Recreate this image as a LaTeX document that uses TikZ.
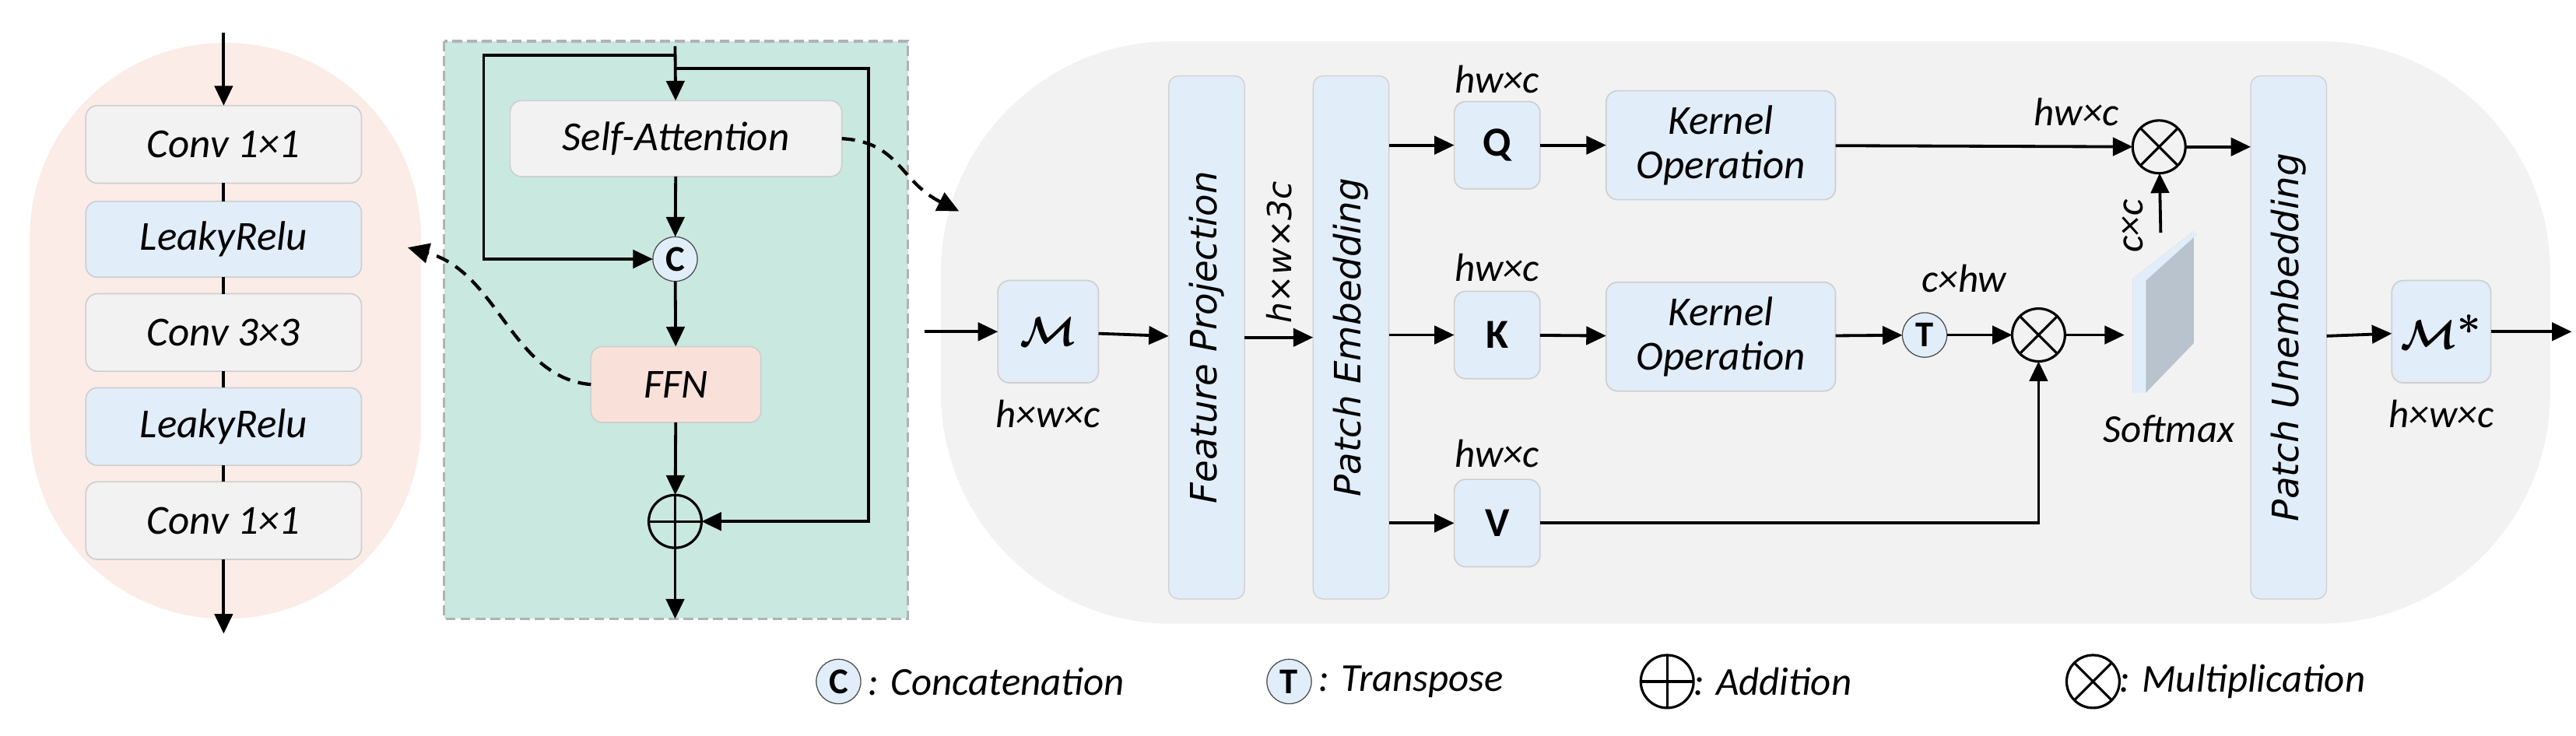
\documentclass[tikz,border=0pt]{standalone}
\usepackage{fontspec}
\setmainfont{Carlito}
\newfontfamily\dvs{DejaVu Sans}
\usetikzlibrary{arrows.meta}
\definecolor{boxgray}{HTML}{F2F2F2}
\definecolor{boxblue}{HTML}{E1EDF9}
\definecolor{bord}{HTML}{CFCFCF}
\definecolor{pinkbg}{HTML}{FBECE7}
\definecolor{greenbg}{HTML}{C9E8DF}
\definecolor{ffnc}{HTML}{F9E1DA}
\definecolor{regbg}{HTML}{F2F2F2}
\definecolor{slab}{HTML}{B8C3CE}
\begin{document}
\begin{tikzpicture}[x=1pt,y=-1pt,
  every node/.style={inner sep=0pt,outer sep=0pt},
  txt/.style={font=\fontsize{25}{27}\selectfont\itshape},
  box/.style={draw=bord,line width=0.8pt,rounded corners=7pt,txt},
  gbox/.style={box,fill=boxgray},
  bbox/.style={box,fill=boxblue},
  bar/.style={draw=bord,line width=0.6pt,fill=boxblue,rounded corners=6pt,minimum width=46pt,minimum height=317pt},
  vtxt/.style={font=\dvs\fontsize{22}{22}\selectfont\itshape,rotate=90},
  op/.style={circle,draw,line width=1.5pt,minimum size=32pt},
  sop/.style={circle,draw=black!70,line width=0.6pt,fill=boxblue,minimum size=27pt,font=\fontsize{22}{22}\selectfont\bfseries},
  arr/.style={line width=1.8pt,-{Triangle[length=12pt,width=11pt]}},
  ln/.style={line width=1.8pt},
  dsh/.style={line width=2pt,dash pattern=on 8pt off 5pt,-{Triangle[length=13pt,width=12pt]}},
  lab/.style={font=\fontsize{24}{25}\selectfont\itshape}]
\useasboundingbox (0,0) rectangle (1560.6,446);
% backgrounds
\fill[pinkbg] (18,26) [rounded corners=118pt] rectangle (255,375);
\filldraw[fill=greenbg,draw=black!30,line width=1.5pt,dash pattern=on 6pt off 3pt] (269,25) rectangle (550,375);
\fill[regbg] (570,25) [rounded corners=140pt] rectangle (1545,378);
% left column
\node[gbox,minimum width=167pt,minimum height=47pt] (c1) at (135.5,87.5) {Conv 1×1};
\node[bbox,minimum width=167pt,minimum height=46pt] (l1) at (135.5,145) {LeakyRelu};
\node[gbox,minimum width=167pt,minimum height=47pt] (c3) at (135.5,201.5) {Conv 3×3};
\node[bbox,minimum width=167pt,minimum height=47pt] (l2) at (135.5,258.5) {LeakyRelu};
\node[gbox,minimum width=167pt,minimum height=47pt] (c4) at (135.5,315.5) {Conv 1×1};
\coordinate (lin) at (135.5,20);
\coordinate (lout) at (135.5,384);
\draw[arr] (lin) -- (c1);
\draw[ln] (c1) -- (l1); \draw[ln] (l1) -- (c3); \draw[ln] (c3) -- (l2); \draw[ln] (l2) -- (c4);
\draw[arr] (c4) -- (lout);
% transformer block
\node[gbox,minimum width=201pt,minimum height=46pt] (sa) at (409.5,84) {Self-Attention};
\node[sop] (cc) at (409,157) {C};
\node[box,fill=ffnc,minimum width=103pt,minimum height=46pt] (ffn) at (409.5,233) {FFN};
\node[op] (add) at (409,316) {};
\draw[line width=1.5pt] (add.north)--(add.south) (add.west)--(add.east);
\coordinate (tin) at (409,28);
\coordinate (tout) at (409,375);
\coordinate (j1) at (409,33.5);
\coordinate (j2) at (409,41.5);
\draw[arr] (tin) -- (sa);
\draw[arr] (j1) -- (293,33.5) |- (cc);
\draw[arr] (j2) -- (526,41.5) |- (add);
\draw[arr] (sa) -- (cc);
\draw[arr] (cc) -- (ffn);
\draw[arr] (ffn) -- (add);
\draw[arr] (add) -- (tout);
\coordinate (d1) at (247,150);
\coordinate (d2) at (581,128);
\draw[dsh] (ffn.west) .. controls (310,229) and (302,165) .. (d1);
\draw[dsh] (sa.east) .. controls (545,86) and (545,110) .. (d2);
% right region
\node[bbox,minimum width=61pt,minimum height=62pt,font=\fontsize{40}{40}\selectfont\boldmath] (m) at (635,201) {$\mathcal{M}$};
\node[lab] at (635,251) {h×w×c};
\node[bar] (fp) at (731,204.5) {}; \node[vtxt] at (fp) {Feature Projection};
\node[bar] (pe) at (818.5,204.5) {}; \node[vtxt] at (pe) {Patch Embedding};
\node[font=\dvs\fontsize{20}{20}\selectfont\itshape,rotate=90] at (775,153) {h×w×3c};
\node[bar] (pu) at (1386.5,204.5) {}; \node[vtxt] at (pu) {Patch Unembedding};
\node[bbox,font=\fontsize{25}{26}\selectfont\bfseries\upshape,minimum width=52pt,minimum height=53pt] (q) at (907,88) {Q};
\node[bbox,font=\fontsize{25}{26}\selectfont\bfseries\upshape,minimum width=52pt,minimum height=53pt] (k) at (907,203) {K};
\node[bbox,font=\fontsize{25}{26}\selectfont\bfseries\upshape,minimum width=52pt,minimum height=53pt] (v) at (907,317) {V};
\node[lab] at (907,48) {hw×c};
\node[lab] at (907,162) {hw×c};
\node[lab] at (907,275) {hw×c};
\node[bbox,minimum width=139pt,minimum height=66pt,align=center] (ko1) at (1042.5,88) {Kernel\\Operation};
\node[bbox,minimum width=139pt,minimum height=66pt,align=center] (ko2) at (1042.5,204) {Kernel\\Operation};
\node[op] (mu1) at (1308,89) {};
\node[op] (mu2) at (1235,203) {};
\foreach \n in {mu1,mu2}{\draw[line width=1.5pt] (\n.north east)--(\n.south west) (\n.north west)--(\n.south east);}
\node[sop] (tt) at (1166,203) {T};
\node[lab] at (1258,68) {hw×c};
\node[lab] at (1190,169) {c×hw};
% softmax slab
\fill[slab] (1292,169) -- (1329,140) -- (1329,208) -- (1300,238) -- (1292,238) -- cycle;
\fill[boxblue] (1292,169) -- (1329,140) -- (1331,142) -- (1300,170) -- (1300,238) -- (1292,238) -- cycle;
\coordinate (sm) at (1309,141);
\coordinate (smin) at (1287,203);
\node[lab] at (1314,260) {Softmax};
\node[lab,rotate=90] at (1292,137) {c×c};
\node[bbox,minimum width=60pt,minimum height=62pt,font=\fontsize{40}{40}\selectfont\boldmath] (ms) at (1479,201) {$\mathcal{M}^{*}$};
\node[lab] at (1479,251) {h×w×c};
\coordinate (rin) at (560,201);
\coordinate (rout) at (1558,201);
\draw[arr] (rin) -- (m);
\draw[arr] (m) -- (fp);
\draw[arr] (fp) -- (pe);
\draw[arr] (pe.east |- q) -- (q);
\draw[arr] (pe.east |- k) -- (k);
\draw[arr] (pe.east |- v) -- (v);
\draw[arr] (q) -- (ko1);
\draw[arr] (k) -- (ko2);
\draw[arr] (ko1) -- (mu1);
\draw[arr] (ko2) -- (tt);
\draw[arr] (tt) -- (mu2);
\draw[arr] (v) -| (mu2);
\draw[arr] (mu2) -- (smin);
\draw[arr] (sm) -- (mu1);
\draw[arr] (mu1) -- (pu.west |- mu1);
\draw[arr] (pu) -- (ms);
\draw[arr] (ms) -- (rout);
% legend
\node[sop] (lc) at (508,413) {C};
\node[lab,anchor=west] at (522,413) {\,: Concatenation};
\node[sop] (lt) at (781,413) {T};
\node[lab,anchor=west] at (795,413) {\,: Transpose};
\node[op] (la) at (1010,413) {};
\draw[line width=1.5pt] (la.north)--(la.south) (la.west)--(la.east);
\node[lab,anchor=west] at (1026,413) {: Addition};
\node[op] (lm) at (1268,413) {};
\draw[line width=1.5pt] (lm.north east)--(lm.south west) (lm.north west)--(lm.south east);
\node[lab,anchor=west] at (1284,413) {: Multiplication};
\end{tikzpicture}
\end{document}
